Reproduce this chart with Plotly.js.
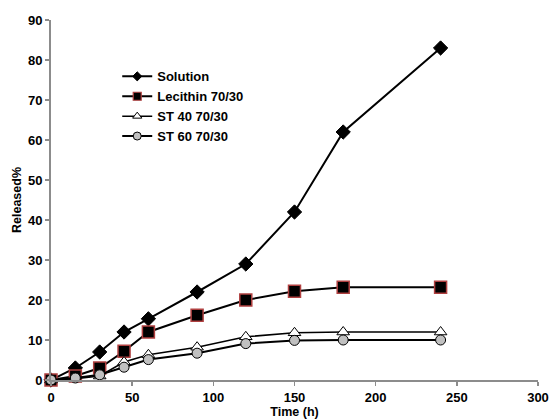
<!DOCTYPE html>
<html>
<head>
<meta charset="utf-8">
<script src="https://cdn.plot.ly/plotly-3.0.1.min.js"></script>
<style>html,body{margin:0;padding:0;background:#fff;}#chart{width:551px;height:420px;}</style>
</head>
<body>
<div id="chart"></div>
<script>
const time = [0, 15, 30, 45, 60, 90, 120, 150, 180, 240];
const solution = [0, 3, 7, 12, 15.3, 22, 29, 42, 62, 83];
const lecithin = [0, 1, 3, 7.2, 12, 16.2, 20, 22.2, 23.2, 23.2];
const st40 = [0, 0.3, 1, 4.5, 6.3, 8.2, 10.8, 11.8, 12, 12];
const st60 = [0, 0.5, 1.3, 3.2, 5.1, 6.7, 9.1, 9.9, 10, 10];
const seriesNames = ["Solution", "Lecithin 70/30", "ST 40 70/30", "ST 60 70/30"];
const xTicks = [0, 50, 100, 150, 200, 250, 300];
const yTicks = [0, 10, 20, 30, 40, 50, 60, 70, 80, 90];

const font = {family: "Liberation Sans, Arial, sans-serif", size: 13, color: "#000", weight: "bold"};
const titleFont = {family: "Liberation Sans, Arial, sans-serif", size: 12.5, color: "#000", weight: "bold"};

const styles = [
  {line: {color: "#000", width: 2}, marker: {symbol: "diamond", size: 11, color: "#000", line: {color: "#000", width: 1}},
   legendMarker: {symbol: "diamond", size: 7, color: "#000", line: {color: "#000", width: 1}}},
  {line: {color: "#000", width: 2}, marker: {symbol: "square", size: 12, color: "#000", line: {color: "#b04040", width: 1.5}},
   legendMarker: {symbol: "square", size: 8, color: "#000", line: {color: "#b04040", width: 1.2}}},
  {line: {color: "#000", width: 1.5}, marker: {symbol: "triangle-up", size: 11, color: "#fff", line: {color: "#000", width: 1}},
   legendMarker: {symbol: "triangle-up", size: 8, color: "#fff", line: {color: "#000", width: 1}}},
  {line: {color: "#000", width: 2}, marker: {symbol: "circle", size: 10, color: "#c0c0c0", line: {color: "#000", width: 1}},
   legendMarker: {symbol: "circle", size: 8, color: "#c0c0c0", line: {color: "#000", width: 1}}}
];
const seriesValues = [solution, lecithin, st40, st60];

const traces = [];
seriesValues.forEach((vals, i) => {
  traces.push({x: time, y: vals, name: seriesNames[i], mode: "lines+markers", cliponaxis: false,
    showlegend: false, line: styles[i].line, marker: styles[i].marker});
});
seriesValues.forEach((vals, i) => {
  traces.push({x: [null], y: [null], name: seriesNames[i], mode: "lines+markers",
    showlegend: true, line: styles[i].line, marker: styles[i].legendMarker, hoverinfo: "skip"});
});

const layout = {
  width: 551, height: 420,
  margin: {l: 51, r: 13, t: 20, b: 40},
  paper_bgcolor: "#fff", plot_bgcolor: "#fff",
  font: font,
  showlegend: true,
  legend: {x: 0.136, y: 0.885, xanchor: "left", yanchor: "top", bgcolor: "rgba(0,0,0,0)",
           font: font, tracegroupgap: 0, itemwidth: 30},
  xaxis: {
    range: [0, 300], tickvals: xTicks, ticktext: xTicks.map(String),
    showgrid: false, zeroline: false, showline: true, linecolor: "#8c8c8c", linewidth: 2,
    ticks: "outside", ticklen: 4, tickwidth: 1.5, tickcolor: "#8c8c8c",
    tickfont: font, fixedrange: true,
    title: {text: "Time (h)", font: titleFont, standoff: 3}
  },
  yaxis: {
    range: [0, 90], tickvals: yTicks, ticktext: yTicks.map(String),
    showgrid: false, zeroline: false, showline: true, linecolor: "#8c8c8c", linewidth: 2,
    ticks: "outside", ticklen: 4, tickwidth: 1.5, tickcolor: "#8c8c8c",
    tickfont: font, fixedrange: true,
    title: {text: "Released%", font: titleFont, standoff: 4}
  }
};

Plotly.newPlot("chart", traces, layout, {displayModeBar: false, staticPlot: true});
</script>
</body>
</html>
